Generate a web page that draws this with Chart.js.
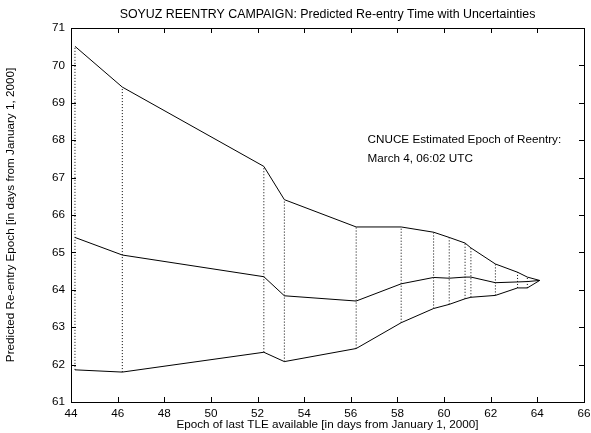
<!DOCTYPE html>
<html>
<head>
<meta charset="utf-8">
<script src="https://cdn.jsdelivr.net/npm/chart.js@4"></script>
<style>
  html, body { margin: 0; padding: 0; background: #fff; }
  #chart { display: block; }
</style>
</head>
<body>
<canvas id="chart" width="591" height="433"></canvas>
<script>
// epochs of the last TLE used (days from Jan 1, 2000)
const epochs = [44.17, 46.2, 52.27, 53.15, 56.23, 58.16, 59.55, 60.22, 60.9, 61.15, 62.2, 63.15, 63.57, 64.1];
// predicted re-entry: upper bound, nominal, lower bound
const upperBound = [70.51, 69.42, 67.3, 66.41, 65.68, 65.68, 65.54, 65.4, 65.25, 65.12, 64.69, 64.47, 64.34, 64.25];
const nominal = [65.4, 64.93, 64.35, 63.84, 63.7, 64.16, 64.33, 64.31, 64.34, 64.34, 64.19, 64.21, 64.22, 64.25];
const lowerBound = [61.86, 61.8, 62.33, 62.08, 62.43, 63.12, 63.5, 63.61, 63.76, 63.8, 63.85, 64.05, 64.05, 64.25];

const xTicks = [44, 46, 48, 50, 52, 54, 56, 58, 60, 62, 64, 66];
const yTicks = [61, 62, 63, 64, 65, 66, 67, 68, 69, 70, 71];

const chartTitle = "SOYUZ REENTRY CAMPAIGN: Predicted Re-entry Time with Uncertainties";
const xTitle = "Epoch of last TLE available [in days from January 1, 2000]";
const yTitle = "Predicted Re-entry Epoch [in days from January 1, 2000]";
const noteLines = ["CNUCE Estimated Epoch of Reentry:", "March 4, 06:02 UTC"];

const FAMILY = "'Liberation Sans', Arial, sans-serif";

const toPoints = (ys) => epochs.map((x, i) => ({ x: x, y: ys[i] }));

const solid = (ys) => ({
  data: toPoints(ys),
  borderColor: "#000",
  borderWidth: 1,
  pointRadius: 0,
  fill: false,
  tension: 0,
});

// dotted uncertainty bars between lower and upper bound
const bars = epochs.map((x, i) => ({
  data: [{ x: x, y: lowerBound[i] }, { x: x, y: upperBound[i] }],
  borderColor: "#000",
  borderWidth: 1,
  borderDash: [1, 2],
  pointRadius: 0,
  fill: false,
}));

const framePlugin = {
  id: "frame",
  afterDraw(chart) {
    const { ctx, chartArea: a, scales } = chart;
    const xs = scales.x, ys = scales.y;
    ctx.save();
    ctx.strokeStyle = "#000";
    ctx.lineWidth = 1;
    ctx.setLineDash([]);
    ctx.strokeRect(Math.round(a.left) + 0.5, Math.round(a.top) + 0.5,
      Math.round(a.right - a.left), Math.round(a.bottom - a.top));
    const t = 5;
    ctx.beginPath();
    xTicks.forEach((v) => {
      const px = Math.round(xs.getPixelForValue(v)) + 0.5;
      ctx.moveTo(px, a.bottom); ctx.lineTo(px, a.bottom - t);
      ctx.moveTo(px, a.top); ctx.lineTo(px, a.top + t);
    });
    yTicks.forEach((v) => {
      const py = Math.round(ys.getPixelForValue(v)) + 0.5;
      ctx.moveTo(a.left, py); ctx.lineTo(a.left + t, py);
      ctx.moveTo(a.right, py); ctx.lineTo(a.right - t, py);
    });
    ctx.stroke();

    ctx.fillStyle = "#000";
    ctx.textAlign = "center";
    ctx.textBaseline = "middle";
    const cx = (a.left + a.right) / 2;
    ctx.font = "12.4px " + FAMILY;
    ctx.fillText(chartTitle, cx, 15);
    ctx.font = "11.7px " + FAMILY;
    ctx.fillText(xTitle, cx, 425);
    ctx.save();
    ctx.translate(11, (a.top + a.bottom) / 2);
    ctx.rotate(-Math.PI / 2);
    ctx.fillText(yTitle, 0, 0);
    ctx.restore();

    ctx.textAlign = "left";
    const nx = xs.getPixelForValue(56.72);
    ctx.fillText(noteLines[0], nx, ys.getPixelForValue(68.01));
    ctx.fillText(noteLines[1], nx, ys.getPixelForValue(67.5));
    ctx.restore();
  },
};

new Chart(document.getElementById("chart"), {
  type: "line",
  data: {
    datasets: [solid(upperBound), solid(nominal), solid(lowerBound)].concat(bars),
  },
  options: {
    responsive: false,
    animation: false,
    layout: { padding: { top: 28, right: 7, left: 0, bottom: 0 } },
    plugins: {
      legend: { display: false },
      title: { display: false },
      tooltip: { enabled: false },
    },
    scales: {
      x: {
        type: "linear",
        min: 44,
        max: 66,
        afterFit: (s) => { s.height = 31; s.paddingLeft = 0; s.paddingRight = 0; },
        afterBuildTicks: (s) => { s.ticks = xTicks.map((v) => ({ value: v })); },
        grid: { display: false, drawTicks: false },
        border: { display: false },
        ticks: { color: "#000", font: { family: FAMILY, size: 11.7 }, padding: 5, maxRotation: 0 },
      },
      y: {
        type: "linear",
        min: 61,
        max: 71,
        afterFit: (s) => { s.width = 71; s.paddingTop = 0; s.paddingBottom = 0; },
        afterBuildTicks: (s) => { s.ticks = yTicks.map((v) => ({ value: v })); },
        grid: { display: false, drawTicks: false },
        border: { display: false },
        ticks: { color: "#000", font: { family: FAMILY, size: 11.7 }, padding: 6 },
      },
    },
  },
  plugins: [framePlugin],
});
</script>
</body>
</html>
